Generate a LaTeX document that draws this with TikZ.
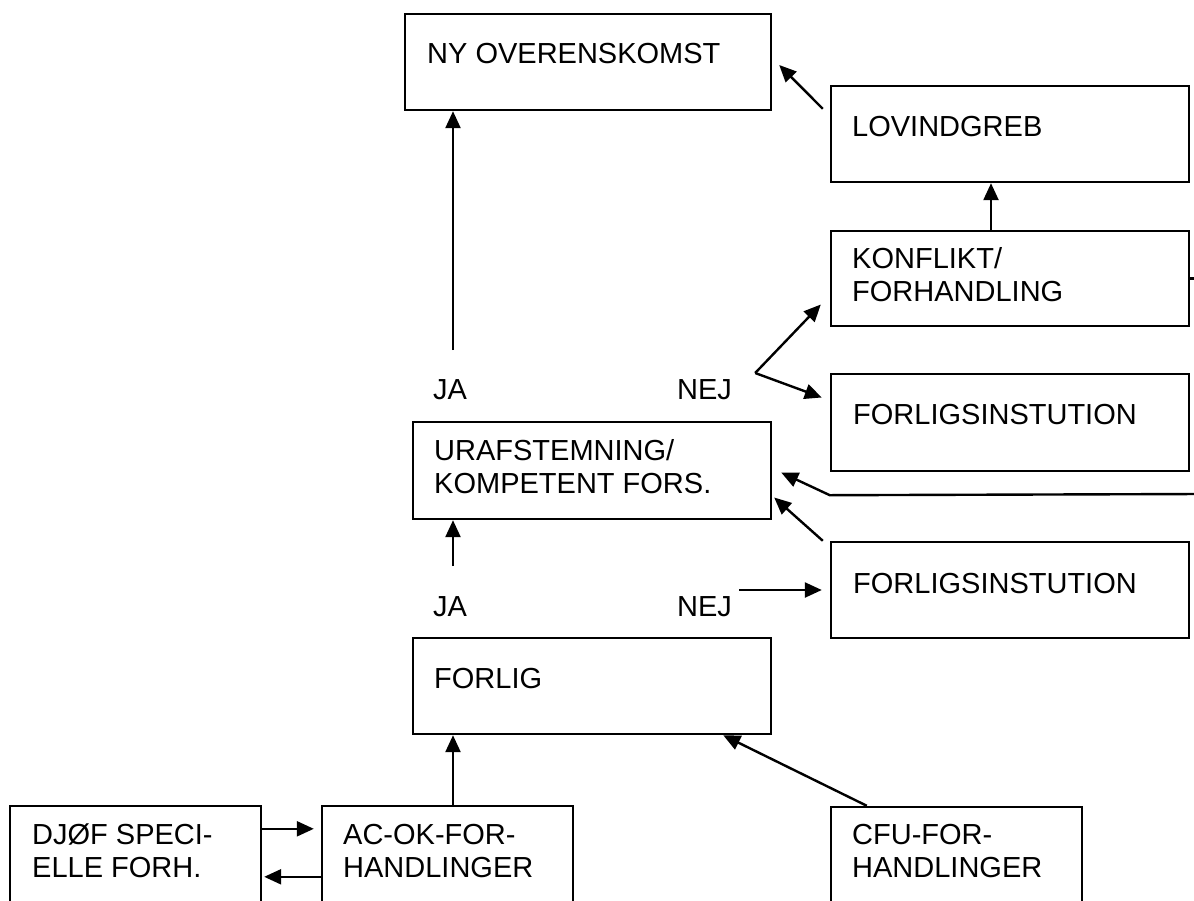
\documentclass[tikz,border=0pt]{standalone}
\usepackage{fontspec}
\setmainfont{Liberation Sans}
\usetikzlibrary{arrows.meta}
\tikzset{
  box/.style={draw, rectangle, line width=2.4pt, inner sep=0pt, minimum width=358pt, minimum height=96pt},
  lbl/.style={anchor=base west, inner sep=0pt, align=left, font=\fontsize{29}{33}\selectfont},
  arr/.style={line width=2.4pt, -{Triangle[length=17pt,width=15pt]}}
}
\begin{document}
\begin{tikzpicture}[x=1pt, y=-1pt]
    \useasboundingbox (0,0) rectangle (1194,900);
    \clip (0,0) rectangle (1194,900);

    % top row
    \node[box, minimum width=366pt] (ny) at (588,62) {};
    \node[lbl] (nyt) at (427,63) {NY OVERENSKOMST};
    \node[box] (lov) at (1010,134) {};
    \node[lbl] (lovt) at (852,136) {LOVINDGREB};
    \node[box, minimum height=95pt] (konf) at (1010,278.5) {};
    \node[lbl] (konft) at (852,301) {KONFLIKT/\\FORHANDLING};
    \node[box, minimum height=97pt] (fi1) at (1010,422.5) {};
    \node[lbl] (fi1t) at (853,424) {FORLIGSINSTUTION};

    % middle
    \node[lbl] (ja1) at (433,399) {JA};
    \node[lbl] (nej1) at (677,399) {NEJ};
    \node[box, minimum height=97pt] (uraf) at (592,470.5) {};
    \node[lbl] (uraft) at (434,493) {URAFSTEMNING/\\KOMPETENT FORS.};
    \node[box] (fi2) at (1010,590) {};
    \node[lbl] (fi2t) at (853,593) {FORLIGSINSTUTION};
    \node[lbl] (ja2) at (433,616) {JA};
    \node[lbl] (nej2) at (677,616) {NEJ};
    \node[box] (forlig) at (592,686) {};
    \node[lbl] (forligt) at (434,688) {FORLIG};

    % bottom row
    \node[box, minimum width=251pt, minimum height=144pt] (djof) at (135.5,878) {};
    \node[lbl] (djoft) at (32,877) {DJØF SPECI-\\ELLE FORH.};
    \node[box, minimum width=251pt, minimum height=144pt] (acok) at (447.5,878) {};
    \node[lbl] (acokt) at (343,877) {AC-OK-FOR-\\HANDLINGER};
    \node[box, minimum width=251pt, minimum height=144pt] (cfu) at (956.5,879) {};
    \node[lbl] (cfut) at (852,877) {CFU-FOR-\\HANDLINGER};

    \coordinate (yes1) at (453,350);
    \coordinate (yes2) at (453,566);
    \coordinate (split1) at ([shift={(23,-26)}]nej1.base east);
    \coordinate (ret1) at (1200,494);
    \coordinate (bend1) at ([yshift=-23pt]fi1.south west);

    \draw[arr] (yes1) -- (ny.south -| yes1);
    \draw[arr] ([xshift=-19pt]konf.north) -- ([xshift=-19pt]lov.south);
    \draw[arr] ([shift={(-7,24)}]lov.north west) -- ([shift={(7,3)}]ny.east);
    \draw[line width=2.4pt] (konf.east) -- ++(15,0);

    \draw[arr] (split1) -- ([shift={(-9,26)}]konf.west);
    \draw[arr] (split1) -- ([shift={(-8,-25)}]fi1.west);
    \draw[arr] (ret1) -- (bend1) -- ([shift={(9,2)}]uraf.east);
    \draw[arr] ([xshift=-7pt]fi2.north west) -- ([shift={(2,27)}]uraf.east);

    \draw[arr] (yes2) -- (uraf.south -| yes2);
    \draw[arr] ([shift={(7,-26)}]nej2.base east) -- ([xshift=-8pt]fi2.west);

    \draw[arr] (acok.north -| yes2) -- (forlig.south -| yes2);
    \draw[arr] ([xshift=37pt]cfu.north west) -- ([xshift=-49pt]forlig.south east);
    \draw[arr] ([yshift=-24pt]djof.north east) -- ([shift={(-7,24)}]acok.north west);
    \draw[arr] ([yshift=-72pt]acok.north west) -- ([shift={(2,72)}]djof.north east);
\end{tikzpicture}
\end{document}
